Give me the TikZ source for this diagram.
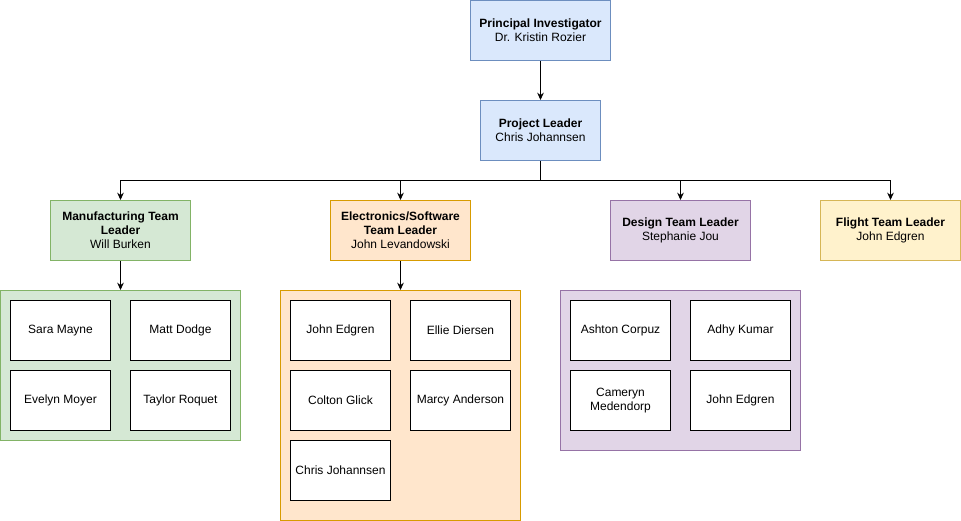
\documentclass[tikz,border=0pt]{standalone}
\usepackage{fontspec}
\setmainfont{Liberation Sans}
\usetikzlibrary{arrows.meta}
\definecolor{blueF}{HTML}{DAE8FC}\definecolor{blueD}{HTML}{6C8EBF}
\definecolor{greenF}{HTML}{D5E8D4}\definecolor{greenD}{HTML}{82B366}
\definecolor{orangeF}{HTML}{FFE6CC}\definecolor{orangeD}{HTML}{D79B00}
\definecolor{purpleF}{HTML}{E1D5E7}\definecolor{purpleD}{HTML}{9673A6}
\definecolor{yellowF}{HTML}{FFF2CC}\definecolor{yellowD}{HTML}{D6B656}
\tikzset{
  box/.style={draw, line width=0.75pt, align=center, inner sep=2pt,
    font=\fontsize{9}{10.5}\selectfont},
  leader/.style={box, minimum width=105pt, minimum height=45pt},
  member/.style={box, fill=white, draw=black, minimum width=75pt, minimum height=45pt},
  group/.style={draw, line width=0.75pt, minimum width=180pt},
  conn/.style={line width=0.75pt, -{Stealth[length=5.5pt,width=5pt]}},
}
\begin{document}
\begin{tikzpicture}[x=0.75pt,y=-0.75pt]
\useasboundingbox (-0.5,-0.5) rectangle (960.5,520.5);
% top
\node[leader, fill=blueF, draw=blueD] (pi) at (540,30) {\textbf{Principal Investigator}\\Dr. Kristin Rozier};
\node[leader, fill=blueF, draw=blueD, minimum width=90pt] (pl) at (540,130) {\textbf{Project Leader}\\Chris Johannsen};
% team leaders
\node[leader, fill=greenF, draw=greenD] (mf) at (120,230) {\textbf{Manufacturing Team}\\\textbf{Leader}\\Will Burken};
\node[leader, fill=orangeF, draw=orangeD] (el) at (400,230) {\textbf{Electronics/Software}\\\textbf{Team Leader}\\John Levandowski};
\node[leader, fill=purpleF, draw=purpleD] (de) at (680,230) {\textbf{Design Team Leader}\\Stephanie Jou};
\node[leader, fill=yellowF, draw=yellowD] (fl) at (890,230) {\textbf{Flight Team Leader}\\John Edgren};
% groups
\node[group, fill=greenF, draw=greenD, minimum height=112.5pt] (gm) at (120,365) {};
\node[group, fill=orangeF, draw=orangeD, minimum height=172.5pt] (ge) at (400,405) {};
\node[group, fill=purpleF, draw=purpleD, minimum height=120pt] (gd) at (680,370) {};
% members
\node[member] (m1) at (60,330) {Sara Mayne};
\node[member] (m2) at (180,330) {Matt Dodge};
\node[member] (m3) at (60,400) {Evelyn Moyer};
\node[member] (m4) at (180,400) {Taylor Roquet};
\node[member] (e1) at (340,330) {John Edgren};
\node[member] (e2) at (460,330) {Ellie Diersen};
\node[member] (e3) at (340,400) {Colton Glick};
\node[member] (e4) at (460,400) {Marcy Anderson};
\node[member] (e5) at (340,470) {Chris Johannsen};
\node[member] (d1) at (620,330) {Ashton Corpuz};
\node[member] (d2) at (740,330) {Adhy Kumar};
\node[member] (d3) at (620,400) {Cameryn\\Medendorp};
\node[member] (d4) at (740,400) {John Edgren};
% connectors
\coordinate (bus) at (540,180);
\draw[conn] (pi) -- (pl);
\draw[line width=0.75pt] (pl.south) -- (bus);
\draw[conn] (bus) -| (mf.north);
\draw[conn] (bus) -| (el.north);
\draw[conn] (bus) -| (de.north);
\draw[conn] (bus) -| (fl.north);
\draw[conn] (mf) -- (gm);
\draw[conn] (el) -- (ge);
\end{tikzpicture}
\end{document}
